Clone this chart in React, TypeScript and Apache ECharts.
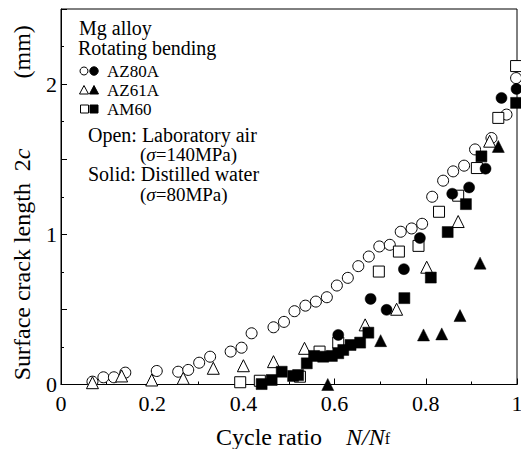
import React, { useEffect, useRef } from 'react';
import * as echarts from 'echarts';

// x = cycle ratio N/Nf, y = surface crack length 2c (mm)
const az80aAir: number[][] = [
  [0.069, 0.019], [0.093, 0.048], [0.116, 0.048], [0.141, 0.079], [0.21, 0.09], [0.257, 0.085],
  [0.279, 0.097], [0.303, 0.145], [0.327, 0.185], [0.372, 0.219], [0.396, 0.245], [0.418, 0.341],
  [0.466, 0.381], [0.489, 0.417], [0.512, 0.488], [0.536, 0.525], [0.559, 0.552], [0.583, 0.581],
  [0.605, 0.659], [0.629, 0.71], [0.652, 0.788], [0.675, 0.852], [0.698, 0.919], [0.721, 0.93],
  [0.745, 1.017], [0.769, 1.039], [0.792, 1.07], [0.814, 1.25], [0.838, 1.357], [0.86, 1.419],
  [0.884, 1.457], [0.908, 1.565], [0.944, 1.641], [0.977, 1.797], [0.998, 2.04],
];
const az61aAir: number[][] = [
  [0.069, 0.012], [0.133, 0.057], [0.199, 0.03], [0.268, 0.041], [0.334, 0.108], [0.4, 0.125],
  [0.466, 0.152], [0.534, 0.241], [0.667, 0.397], [0.736, 0.501], [0.802, 0.781], [0.871, 1.085],
  [0.94, 1.62],
];
const am60Air: number[][] = [
  [0.393, 0.015], [0.436, 0.025], [0.524, 0.052], [0.567, 0.219], [0.608, 0.279], [0.697, 0.752],
  [0.741, 0.885], [0.784, 0.923], [0.829, 1.15], [0.871, 1.257], [0.912, 1.441], [0.959, 1.775],
  [0.998, 2.12],
];
const az80aWater: number[][] = [
  [0.608, 0.33], [0.679, 0.57], [0.714, 0.497], [0.752, 0.768], [0.787, 0.975], [0.858, 1.27],
  [0.895, 1.312], [0.931, 1.437], [0.966, 1.908], [0.999, 1.968],
];
const az61aWater: number[][] = [
  [0.585, 0.0], [0.701, 0.292], [0.795, 0.33], [0.835, 0.337], [0.875, 0.459], [0.919, 0.808],
  [0.959, 1.585],
];
const am60Water: number[][] = [
  [0.44, 0.003], [0.462, 0.03], [0.484, 0.085], [0.509, 0.057], [0.52, 0.063], [0.539, 0.141],
  [0.555, 0.19], [0.575, 0.185], [0.594, 0.19], [0.608, 0.208], [0.619, 0.23], [0.635, 0.263],
  [0.656, 0.279], [0.674, 0.345], [0.753, 0.575], [0.811, 0.712], [0.848, 1.015], [0.888, 1.201],
  [0.922, 1.519], [0.998, 1.875],
];

const legendNames = ['AZ80A', 'AZ61A', 'AM60'];
const notes = ['Mg alloy', 'Rotating bending'];

const FONT = 'Liberation Serif';

function mkSeries(name: string, data: number[][], symbol: string, open: boolean, size: number) {
  return {
    type: 'scatter',
    name,
    data,
    symbol,
    symbolSize: size,
    itemStyle: open
      ? { color: '#fff', borderColor: '#000', borderWidth: 1, opacity: 1 }
      : { color: '#000', borderColor: '#000', borderWidth: 0.5, opacity: 1 },
    emphasis: { disabled: true },
  };
}

export default function App() {
  const ref = useRef<HTMLDivElement>(null);
  useEffect(() => {
    document.body.style.margin = '0';
    const chart = echarts.init(ref.current!, null, { renderer: 'svg' });
    const txt = (x: number, y: number, text: string, size: number) => ({
      type: 'text',
      x,
      y,
      style: {
        text,
        fontFamily: FONT,
        fontSize: size,
        lineHeight: size - 2,
        fill: '#000',
        verticalAlign: 'middle',
        align: 'left',
        rich: { i: { fontStyle: 'italic', fontFamily: FONT, fontSize: size, lineHeight: size - 2 } },
      },
    });
    const open = { fill: '#fff', stroke: '#000', lineWidth: 1 };
    const solid = { fill: '#000', stroke: '#000', lineWidth: 1 };
    const tri = (cx: number, cy: number) => [[cx - 4.5, cy + 4], [cx + 4.5, cy + 4], [cx, cy - 4.5]];
    const option: any = {
      animation: false,
      backgroundColor: '#fff',
      textStyle: { fontFamily: FONT },
      grid: {
        left: 61, right: 4, top: 9, bottom: 64.5,
        containLabel: false, outerBoundsMode: 'none',
        show: true, borderColor: '#000', borderWidth: 1,
      },
      xAxis: {
        type: 'value',
        min: 0,
        max: 1,
        interval: 0.2,
        axisLine: { show: true, lineStyle: { color: '#000', width: 1 } },
        axisTick: { show: true, inside: true, length: 6, lineStyle: { color: '#000' } },
        minorTick: { show: true, splitNumber: 2, length: 3, lineStyle: { color: '#000' } },
        splitLine: { show: false },
        axisLabel: {
          color: '#000',
          fontFamily: FONT,
          fontSize: 22,
          margin: 8,
          formatter: (v: number) => (v === 0 ? '0' : v === 1 ? '1' : v.toFixed(1)),
        },
        name: '{e|}{a|Cycle ratio}{g|}{i|N/N}{s|f}',
        nameLocation: 'middle',
        nameGap: 42,
        nameTextStyle: {
          lineHeight: 20,
          rich: {
            e: { width: 28, lineHeight: 20 },
            a: { fontFamily: FONT, fontSize: 24, color: '#000', lineHeight: 20 },
            g: { width: 24, lineHeight: 20 },
            i: { fontFamily: FONT, fontSize: 24, fontStyle: 'italic', color: '#000', lineHeight: 20 },
            s: { fontFamily: FONT, fontSize: 16, color: '#000', verticalAlign: 'bottom', lineHeight: 14, padding: [6, 0, 0, 0] },
          },
        },
      },
      yAxis: {
        type: 'value',
        min: 0,
        max: 2.5,
        interval: 0.5,
        axisLine: { show: true, lineStyle: { color: '#000', width: 1 } },
        axisTick: { show: true, inside: true, length: 6, lineStyle: { color: '#000' } },
        minorTick: { show: true, splitNumber: 2, length: 3, lineStyle: { color: '#000' } },
        splitLine: { show: false },
        axisLabel: {
          color: '#000',
          fontFamily: FONT,
          fontSize: 22,
          margin: 4,
          formatter: (v: number) => (Math.abs(v - Math.round(v)) < 1e-9 ? String(Math.round(v)) : ''),
        },
        name: '{a|Surface crack length}{g|}{a|2}{i|c}{h|}{a|(mm)}{e|}',
        nameLocation: 'middle',
        nameGap: 27,
        nameTextStyle: {
          rich: {
            a: { fontFamily: FONT, fontSize: 24, color: '#000' },
            g: { width: 12 },
            h: { width: 70 },
            e: { width: 12 },
            i: { fontFamily: FONT, fontSize: 24, fontStyle: 'italic', color: '#000' },
          },
        },
      },
      series: [
        mkSeries('AZ80A air', az80aAir, 'circle', true, 11),
        mkSeries('AZ61A air', az61aAir, 'triangle', true, 12),
        mkSeries('AM60 air', am60Air, 'rect', true, 11),
        mkSeries('AZ80A water', az80aWater, 'circle', false, 11),
        mkSeries('AZ61A water', az61aWater, 'triangle', false, 12),
        mkSeries('AM60 water', am60Water, 'rect', false, 11),
      ],
      graphic: [
        txt(79, 28, notes[0], 20),
        txt(78, 48, notes[1], 20),
        { type: 'circle', shape: { cx: 84, cy: 71, r: 4 }, style: open },
        { type: 'circle', shape: { cx: 94, cy: 71, r: 4.2 }, style: solid },
        { type: 'polygon', shape: { points: tri(84, 90) }, style: open },
        { type: 'polygon', shape: { points: tri(94, 90) }, style: solid },
        { type: 'rect', shape: { x: 80.5, y: 105, width: 8, height: 8 }, style: open },
        { type: 'rect', shape: { x: 90, y: 105, width: 8, height: 8 }, style: solid },
        txt(107, 71, legendNames[0], 17),
        txt(107, 90, legendNames[1], 17),
        txt(107, 109, legendNames[2], 17),
        txt(88, 135, 'Open: Laboratory air', 20),
        txt(140, 154.5, '({i|σ}=140MPa)', 19),
        txt(88, 174, 'Solid: Distilled water', 20),
        txt(140, 194, '({i|σ}=80MPa)', 19),
      ],
    };
    chart.setOption(option);
    return () => chart.dispose();
  }, []);
  return <div ref={ref} style={{ width: 521, height: 449 }} />;
}
